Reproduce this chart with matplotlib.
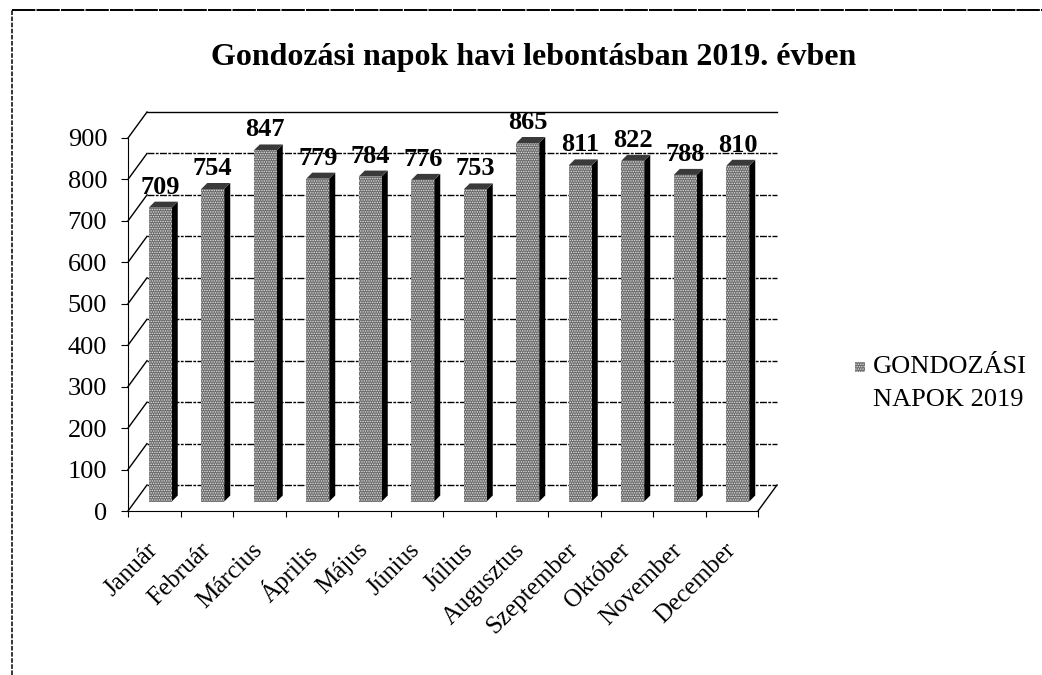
import matplotlib
matplotlib.use('Agg')
import matplotlib.pyplot as plt

plt.rcParams['font.family'] = ['Liberation Serif', 'DejaVu Serif']
plt.rcParams['hatch.linewidth'] = 0.7

months = ['Január', 'Február', 'Március', 'Április', 'Május', 'Június', 'Július',
          'Augusztus', 'Szeptember', 'Október', 'November', 'December']
days = [709, 754, 847, 779, 784, 776, 753, 865, 811, 822, 788, 810]
y_ticks = [0, 100, 200, 300, 400, 500, 600, 700, 800, 900]

W, H = 1042, 675
fig = plt.figure(figsize=(W / 100, H / 100), dpi=100)
ax = fig.add_axes([128 / W, (H - 511) / H, 630 / W, 373 / H])
ax.set_xlim(-0.5, 11.5)
ax.set_ylim(0, 900)

# pixels to data units
px_x = 12 / 630
px_y = 900 / 373
depth_x = 19 * px_x
depth_y = 26 * px_y
line_style = (0, (5, 1, 2, 1))

# back wall and side wall lines
for v in y_ticks:
    ax.plot([-0.5 + depth_x, 11.5 + depth_x], [v + depth_y, v + depth_y], color='black',
            lw=1.0, ls=line_style if v < 900 else '-', clip_on=False, zorder=1)
    ax.plot([-0.5, -0.5 + depth_x], [v, v + depth_y], color='black', lw=1.0, clip_on=False, zorder=1)
ax.plot([11.5, 11.5 + depth_x], [0, depth_y], color='black', lw=1.0, clip_on=False, zorder=1)

# bars: front, then side and top
bar_w = 23 * px_x
shift = 6 * px_x
base = 9.5 * px_y
side_x = 6 * px_x
side_y = 6 * px_y
for i, d in enumerate(days):
    c = i + shift
    left, right = c - bar_w / 2, c + bar_w / 2
    top = base + d
    ax.fill([right, right + side_x, right + side_x, right],
            [base, base + side_y, top + side_y, top], color='black', lw=0, clip_on=False, zorder=3)
    ax.fill([left, left + side_x, right + side_x, right],
            [top, top + side_y, top + side_y, top], color='#3a3a3a', lw=0, clip_on=False, zorder=3)
    ax.bar(c, d, bottom=base, width=bar_w, color='#6a6a6a', edgecolor='#e4e4e4', hatch='.......',
           lw=0, clip_on=False, zorder=3)
    ax.text(i + 6 * px_x, top + 14 * px_y, str(d), ha='center', va='baseline', fontsize=19,
            fontweight='bold', clip_on=False, zorder=4)

for s in ['top', 'right']:
    ax.spines[s].set_visible(False)
ax.spines['left'].set_linestyle(line_style)
ax.spines['bottom'].set_linestyle((0, (4, 1, 1, 1)))

ax.set_yticks(y_ticks)
ax.tick_params(axis='y', length=5, labelsize=19, pad=10)
ax.set_xticks([i - 0.5 for i in range(13)])
ax.set_xticklabels([])
ax.tick_params(axis='x', which='major', length=4)
ax.set_xticks([i - 0.15 for i in range(12)], labels=months, minor=True)
ax.tick_params(axis='x', which='minor', length=0, labelsize=18, pad=20)
for t in ax.get_xticklabels(minor=True):
    t.set_rotation(45)
    t.set_ha('right')
    t.set_rotation_mode('anchor')

fig.text(534 / W, 1 - 58 / H, 'Gondozási napok havi lebontásban 2019. évben', ha='center', va='center',
         fontsize=23, fontweight='bold')

# outer frame
fig.add_artist(plt.Line2D([12 / W, 12 / W], [0, 1 - 10 / H], color='black', lw=1.1, ls=(0, (3, 1))))
fig.add_artist(plt.Line2D([12 / W, 1], [1 - 10 / H, 1 - 10 / H], color='black', lw=1.4, ls=(0, (12, 0.6))))

# legend
fig.add_artist(plt.Rectangle((855 / W, 1 - 372 / H), 10 / W, 10 / H, facecolor='#6a6a6a', edgecolor='#e4e4e4',
                             hatch='.......', lw=0, transform=fig.transFigure))
fig.text(873 / W, 1 - 367 / H, 'GONDOZÁSI', ha='left', va='center', fontsize=19)
fig.text(873 / W, 1 - 400 / H, 'NAPOK 2019', ha='left', va='center', fontsize=19)

fig.savefig('out.png', dpi=100)
